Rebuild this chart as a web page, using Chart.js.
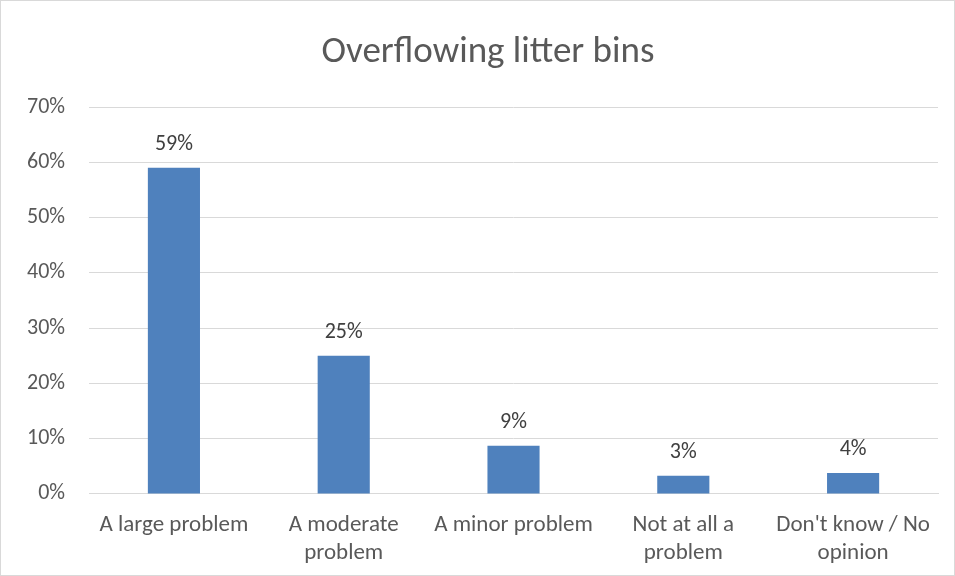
<!DOCTYPE html>
<html>
<head>
<meta charset="utf-8">
<script src="https://cdn.jsdelivr.net/npm/chart.js@4/dist/chart.umd.min.js"></script>
<style>
  html, body { margin: 0; padding: 0; background: #fff; }
  .wrap { position: relative; width: 953px; height: 574px; border: 1px solid #d9d9d9; }
</style>
</head>
<body>
<div class="wrap"><canvas id="chart"></canvas></div>
<script>
const categories = [['A large problem'], ['A moderate', 'problem'], ['A minor problem'], ['Not at all a', 'problem'], ["Don't know / No", 'opinion']];
const shares = [59, 25, 8.7, 3.3, 3.8];
const tickMax = 70;
const chartTitle = 'Overflowing litter bins';

const fontFamily = 'Calibri, Carlito, Lato, sans-serif';

// title sits a bit right of the canvas centre, like the original
const titleText = {
  id: 'titleText',
  afterDraw(chart) {
    const ctx = chart.ctx;
    ctx.save();
    ctx.font = '37px ' + fontFamily;
    ctx.fillStyle = '#595959';
    ctx.textAlign = 'center';
    ctx.textBaseline = 'middle';
    ctx.fillText(chartTitle, 487, 52);
    ctx.restore();
  }
};

const barLabels = {
  id: 'barLabels',
  afterDatasetsDraw(chart) {
    const ctx = chart.ctx;
    ctx.save();
    ctx.font = '22px ' + fontFamily;
    ctx.fillStyle = '#404040';
    ctx.textAlign = 'center';
    ctx.textBaseline = 'alphabetic';
    chart.getDatasetMeta(0).data.forEach((bar, i) => {
      ctx.fillText(Math.round(shares[i]) + '%', bar.x, bar.y - 18);
    });
    ctx.restore();
  }
};

new Chart(document.getElementById('chart'), {
  type: 'bar',
  data: {
    labels: categories,
    datasets: [{ data: shares, backgroundColor: '#4F81BD', barPercentage: 0.307, categoryPercentage: 1 }]
  },
  options: {
    responsive: true,
    maintainAspectRatio: false,
    animation: false,
    layout: { padding: { left: 2, right: 16, top: 106, bottom: -1 } },
    plugins: {
      legend: { display: false },
      tooltip: { enabled: false },
      title: { display: false }
    },
    scales: {
      x: {
        grid: { display: false },
        border: { color: '#d9d9d9' },
        ticks: { color: '#595959', font: { size: 23, family: fontFamily, lineHeight: 1.22 }, maxRotation: 0, autoSkip: false, padding: 9 }
      },
      y: {
        min: 0,
        max: tickMax,
        border: { display: false },
        grid: { color: '#d9d9d9', drawTicks: false },
        ticks: { stepSize: 10, color: '#595959', padding: 24, font: { size: 22, family: fontFamily }, callback: v => v + '%' }
      }
    }
  },
  plugins: [barLabels, titleText]
});
</script>
</body>
</html>
